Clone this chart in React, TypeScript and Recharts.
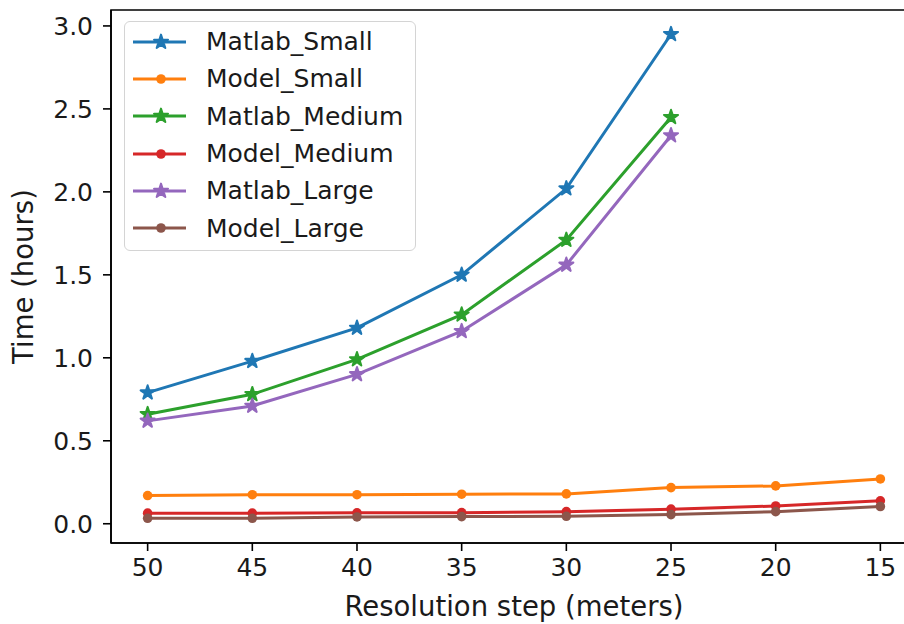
import { LineChart, Line, XAxis, YAxis, Legend, Label, ReferenceArea } from 'recharts'

const steps = [50, 45, 40, 35, 30, 25, 20, 15]
const matlabSmall = [0.79, 0.98, 1.18, 1.5, 2.02, 2.95, null, null]
const modelSmall = [0.17, 0.175, 0.175, 0.178, 0.18, 0.218, 0.228, 0.27]
const matlabMedium = [0.66, 0.78, 0.99, 1.26, 1.71, 2.45, null, null]
const modelMedium = [0.064, 0.064, 0.066, 0.067, 0.073, 0.088, 0.107, 0.138]
const matlabLarge = [0.62, 0.71, 0.9, 1.16, 1.56, 2.34, null, null]
const modelLarge = [0.033, 0.033, 0.041, 0.043, 0.045, 0.055, 0.073, 0.104]
const yTicks = [0, 0.5, 1, 1.5, 2, 2.5, 3]

const series = [
  { key: 'Matlab_Small', values: matlabSmall, color: '#1f77b4', star: true },
  { key: 'Model_Small', values: modelSmall, color: '#ff7f0e', star: false },
  { key: 'Matlab_Medium', values: matlabMedium, color: '#2ca02c', star: true },
  { key: 'Model_Medium', values: modelMedium, color: '#d62728', star: false },
  { key: 'Matlab_Large', values: matlabLarge, color: '#9467bd', star: true },
  { key: 'Model_Large', values: modelLarge, color: '#8c564b', star: false },
]

const data = steps.map((step, i) => {
  const row: Record<string, number | null> = { step }
  series.forEach((s) => {
    row[s.key] = s.values[i]
  })
  return row
})

const X_DOMAIN = [13.25, 51.75]
const Y_DOMAIN = [-0.116, 3.096]
const FONT = '"DejaVu Sans", sans-serif'
const TEXT = '#1a1a1a'

function starPoints(cx: number, cy: number, r: number) {
  const pts: string[] = []
  for (let i = 0; i < 10; i++) {
    const rad = i % 2 === 0 ? r : r * 0.382
    const a = -Math.PI / 2 + (i * Math.PI) / 5
    pts.push(`${cx + rad * Math.cos(a)},${cy + rad * Math.sin(a)}`)
  }
  return pts.join(' ')
}

const makeDot = (color: string, star: boolean) => (props: any) => {
  const { cx, cy, index } = props
  if (cx == null || cy == null || props.value == null) return <g key={index} />
  if (star) {
    return (
      <polygon
        key={index}
        points={starPoints(cx, cy, 7.4)}
        fill={color}
        stroke={color}
        strokeWidth={2}
        strokeLinejoin="round"
      />
    )
  }
  return <circle key={index} cx={cx} cy={cy} r={4.8} fill={color} stroke="none" />
}

function LegendBox() {
  return (
    <div
      style={{
        background: 'rgba(255,255,255,0.8)',
        border: '1.5px solid #d4d4d4',
        borderRadius: 6,
        padding: '1px 12px 3px 8px',
        fontFamily: FONT,
        fontSize: 25,
        color: TEXT,
      }}
    >
      {series.map((s) => (
        <div key={s.key} style={{ display: 'flex', alignItems: 'center', height: 37.3 }}>
          <svg width={53} height={20} style={{ marginRight: 20 }}>
            <line x1={0} y1={10} x2={53} y2={10} stroke={s.color} strokeWidth={3} />
            {s.star ? (
              <polygon points={starPoints(28, 10, 7.4)} fill={s.color} stroke={s.color} strokeWidth={2} strokeLinejoin="round" />
            ) : (
              <circle cx={28} cy={10} r={4.8} fill={s.color} />
            )}
          </svg>
          <span>{s.key}</span>
        </div>
      ))}
    </div>
  )
}

export default function App() {
  const tickStyle = { fontFamily: FONT, fontSize: 25, fill: TEXT }
  const labelStyle = { fontFamily: FONT, fontSize: 27.5, fill: TEXT }
  return (
    <div style={{ position: 'fixed', left: 0, top: 0, width: 904, height: 624, overflow: 'hidden', background: '#fff' }}>
      <LineChart width={920} height={624} data={data} margin={{ top: 10, right: 3, bottom: 0, left: 0 }}>
        <XAxis
          dataKey="step"
          type="number"
          domain={X_DOMAIN}
          reversed
          ticks={steps}
          interval={0}
          height={81}
          tickSize={8}
          tickMargin={7}
          tick={tickStyle}
          tickLine={{ stroke: '#000', strokeWidth: 1.6 }}
          axisLine={{ stroke: '#000', strokeWidth: 1.6 }}
        >
          <Label
            content={({ viewBox }: any) => (
              <text x={viewBox.x + viewBox.width / 2} y={616} textAnchor="middle" style={labelStyle}>
                Resolution step (meters)
              </text>
            )}
          />
        </XAxis>
        <YAxis
          type="number"
          domain={Y_DOMAIN}
          ticks={yTicks}
          interval={0}
          width={111}
          tickSize={8}
          tickMargin={10}
          tickFormatter={(v: number) => v.toFixed(1)}
          tick={tickStyle}
          tickLine={{ stroke: '#000', strokeWidth: 1.6 }}
          axisLine={{ stroke: '#000', strokeWidth: 1.6 }}
        >
          <Label
            content={({ viewBox }: any) => {
              const cy = viewBox.y + viewBox.height / 2
              return (
                <text x={33} y={cy} transform={`rotate(-90, 33, ${cy})`} textAnchor="middle" style={labelStyle}>
                  Time (hours)
                </text>
              )
            }}
          />
        </YAxis>
        <ReferenceArea
          x1={X_DOMAIN[0]}
          x2={X_DOMAIN[1]}
          y1={Y_DOMAIN[0]}
          y2={Y_DOMAIN[1]}
          fill="none"
          fillOpacity={0}
          stroke="#000"
          strokeWidth={1.6}
        />
        <Legend
          layout="horizontal"
          verticalAlign="middle"
          align="center"
          wrapperStyle={{ position: 'absolute', left: 124, top: 21, width: 'auto' }}
          content={() => <LegendBox />}
        />
        {series.map((s) => (
          <Line
            key={s.key}
            dataKey={s.key}
            name={s.key}
            stroke={s.color}
            strokeWidth={3}
            dot={makeDot(s.color, s.star)}
            activeDot={false}
            connectNulls={false}
            isAnimationActive={false}
          />
        ))}
      </LineChart>
    </div>
  )
}
